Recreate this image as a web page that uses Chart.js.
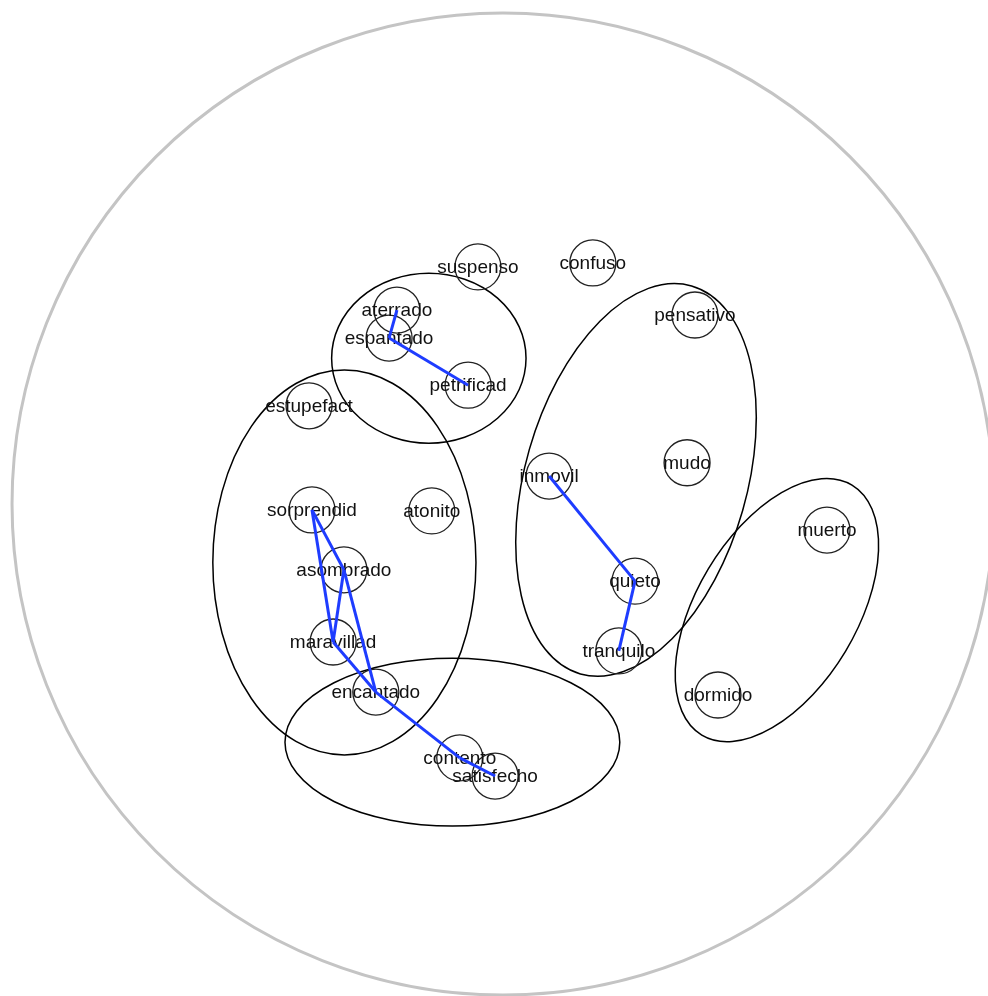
<!DOCTYPE html>
<html>
<head>
<meta charset="utf-8">
<script src="https://cdn.jsdelivr.net/npm/chart.js@4.4.1/dist/chart.umd.min.js"></script>
<style>
  html,body{margin:0;padding:0;background:#fff;}
  #wrap{width:988px;height:996px;position:relative;}
</style>
</head>
<body>
<div id="wrap"><canvas id="mapa"></canvas></div>
<script>
// ===================== DATOS =====================
const palabras = ['suspenso','confuso','aterrado','espantado','petrificad','estupefact',
  'sorprendid','atonito','asombrado','maravillad','encantado','contento','satisfecho',
  'pensativo','mudo','inmovil','quieto','tranquilo','muerto','dormido'];
const posX = [-0.051, 0.183,-0.216,-0.232,-0.071,-0.395,
  -0.389,-0.145,-0.324,-0.346,-0.259,-0.088,-0.016,
   0.391, 0.375, 0.094, 0.269, 0.236, 0.660, 0.438];
const posY = [ 0.483, 0.491, 0.395, 0.338, 0.242, 0.200,
  -0.012,-0.014,-0.134,-0.281,-0.383,-0.517,-0.554,
   0.385, 0.084, 0.057,-0.157,-0.299,-0.053,-0.389];

// enlaces (azul)
const enlaces = [
  ['espantado','aterrado'],['espantado','petrificad'],
  ['sorprendid','maravillad'],['sorprendid','asombrado'],['asombrado','maravillad'],
  ['asombrado','encantado'],['maravillad','encantado'],['encantado','contento'],
  ['contento','satisfecho'],
  ['inmovil','quieto'],['quieto','tranquilo']
];

// grupos (elipses): centro, semiejes (horizontal/vertical antes de girar), giro en grados
const grupoX   = [-0.151,-0.323,-0.103, 0.271, 0.558];
const grupoY   = [ 0.297,-0.119,-0.485, 0.049,-0.216];
const grupoRx  = [ 0.198, 0.268, 0.341, 0.226, 0.163];
const grupoRy  = [ 0.173, 0.392, 0.171, 0.411, 0.297];
const grupoRot = [ 0, 0, 0, 16, 31];

const radioGrande = 1;

// ===================== GRAFICO =====================
const idx = n => palabras.indexOf(n);
const puntos = palabras.map((p,i)=>({x:posX[i], y:posY[i]}));

const dsEnlaces = enlaces.map(([a,b])=>({
  type:'scatter', order:0, showLine:true,
  data:[puntos[idx(a)], puntos[idx(b)]],
  borderColor:'rgb(30,60,255)', borderWidth:3, pointRadius:0, pointHoverRadius:0
}));

const fondo = {
  id:'fondo',
  beforeDatasetsDraw(chart){
    const {ctx, scales:{x, y}} = chart;
    const ux = x.getPixelForValue(1)-x.getPixelForValue(0);
    const uy = y.getPixelForValue(0)-y.getPixelForValue(1);
    ctx.save();
    ctx.strokeStyle='#c4c4c4'; ctx.lineWidth=3;
    ctx.beginPath();
    ctx.ellipse(x.getPixelForValue(0), y.getPixelForValue(0), ux*radioGrande, uy*radioGrande, 0, 0, Math.PI*2);
    ctx.stroke();
    ctx.strokeStyle='#000'; ctx.lineWidth=1.5;
    grupoX.forEach((gx,i)=>{
      ctx.beginPath();
      ctx.ellipse(x.getPixelForValue(gx), y.getPixelForValue(grupoY[i]),
        ux*grupoRx[i], uy*grupoRy[i], grupoRot[i]*Math.PI/180, 0, Math.PI*2);
      ctx.stroke();
    });
    ctx.restore();
  },
  afterDatasetDraw(chart, args){
    if(args.index!==0) return;
    const {ctx, scales:{x, y}} = chart;
    ctx.save();
    ctx.font='19px "Liberation Sans", Arial, sans-serif';
    ctx.fillStyle='#111'; ctx.textAlign='center'; ctx.textBaseline='middle';
    palabras.forEach((p,i)=> ctx.fillText(p, x.getPixelForValue(posX[i]), y.getPixelForValue(posY[i])+1));
    ctx.restore();
  }
};

new Chart(document.getElementById('mapa').getContext('2d'),{
  type:'scatter',
  data:{datasets:[
    {label:'palabras', order:1, data:puntos, pointRadius:23, pointHoverRadius:23,
     pointBackgroundColor:'rgba(0,0,0,0)', pointBorderColor:'#222', pointBorderWidth:1.3},
    ...dsEnlaces
  ]},
  options:{responsive:true, maintainAspectRatio:false, animation:false,
    layout:{padding:0, autoPadding:false},
    plugins:{legend:{display:false}, tooltip:{enabled:false}},
    scales:{x:{type:'linear', display:false, min:-1.0245, max:0.988},
            y:{type:'linear', display:false, min:-1.002, max:1.0265}}},
  plugins:[fondo]
});
</script>
</body>
</html>
